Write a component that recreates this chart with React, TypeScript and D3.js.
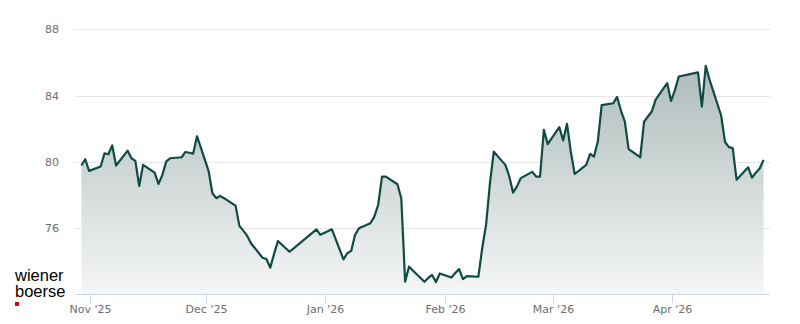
import React from "react";
import * as d3 from "d3";

const dates: string[] = [
  "2025-10-29","2025-10-30","2025-10-31","2025-11-03","2025-11-04","2025-11-05","2025-11-06","2025-11-07",
  "2025-11-10","2025-11-11","2025-11-12","2025-11-13","2025-11-14","2025-11-17","2025-11-18","2025-11-19",
  "2025-11-20","2025-11-21","2025-11-24","2025-11-25","2025-11-26","2025-11-27","2025-11-28","2025-12-01",
  "2025-12-02","2025-12-03","2025-12-04","2025-12-05","2025-12-08","2025-12-09","2025-12-10","2025-12-11",
  "2025-12-12","2025-12-15","2025-12-16","2025-12-17","2025-12-18","2025-12-19","2025-12-22","2025-12-23",
  "2025-12-29","2025-12-30","2026-01-02","2026-01-05","2026-01-06","2026-01-07","2026-01-08","2026-01-09",
  "2026-01-12","2026-01-13","2026-01-14","2026-01-15","2026-01-16","2026-01-19","2026-01-20","2026-01-21",
  "2026-01-22","2026-01-23","2026-01-26","2026-01-27","2026-01-28","2026-01-29","2026-01-30","2026-02-02",
  "2026-02-03","2026-02-04","2026-02-05","2026-02-06","2026-02-09","2026-02-10","2026-02-11","2026-02-12",
  "2026-02-13","2026-02-16","2026-02-17","2026-02-18","2026-02-19","2026-02-20","2026-02-23","2026-02-24",
  "2026-02-25","2026-02-26","2026-02-27","2026-03-02","2026-03-03","2026-03-04","2026-03-05","2026-03-06",
  "2026-03-09","2026-03-10","2026-03-11","2026-03-12","2026-03-13","2026-03-16","2026-03-17","2026-03-18",
  "2026-03-19","2026-03-20","2026-03-23","2026-03-24","2026-03-25","2026-03-26","2026-03-27","2026-03-30",
  "2026-03-31","2026-04-01","2026-04-02","2026-04-07","2026-04-08","2026-04-09","2026-04-10","2026-04-13",
  "2026-04-14","2026-04-15","2026-04-16","2026-04-17","2026-04-20","2026-04-21","2026-04-22","2026-04-23",
  "2026-04-24",
];

const prices: number[] = [
  79.78, 80.16, 79.46, 79.72, 80.52, 80.46, 80.99, 79.78,
  80.68, 80.22, 80.06, 78.55, 79.82, 79.35, 78.67, 79.2,
  80.02, 80.22, 80.28, 80.6, 80.55, 80.5, 81.55, 79.46,
  78.11, 77.81, 77.95, 77.81, 77.36, 76.14, 75.85, 75.55,
  75.09, 74.22, 74.14, 73.62, 74.45, 75.23, 74.58, 74.77,
  75.93, 75.6, 75.93, 74.12, 74.49, 74.63, 75.59, 75.99,
  76.3, 76.7, 77.4, 79.11, 79.11, 78.65, 77.81, 72.77,
  73.68, 73.45, 72.77, 73.0, 73.18, 72.75, 73.27, 73.03,
  73.3, 73.53, 72.93, 73.11, 73.07, 74.79, 76.2, 78.7,
  80.62, 79.82, 79.15, 78.15, 78.51, 79.02, 79.4, 79.11,
  79.11, 81.93, 81.07, 82.1, 81.29, 82.3, 80.6, 79.27,
  79.82, 80.48, 80.32, 81.23, 83.43, 83.54, 83.92, 83.1,
  82.43, 80.77, 80.28, 82.43, 82.74, 83.04, 83.76, 84.75,
  83.68, 84.32, 85.15, 85.4, 83.34, 85.8, 84.95, 82.8,
  81.2, 80.89, 80.83, 78.93, 79.67, 79.05, 79.35, 79.6,
  80.12,
];

const yTicks: number[] = [76, 80, 84, 88];
const xTickDates: string[] = ["2025-11-01", "2025-12-01", "2026-01-01", "2026-02-01", "2026-03-01", "2026-04-01"];
const xTickLabels: string[] = ["Nov '25", "Dec '25", "Jan '26", "Feb '26", "Mar '26", "Apr '26"];

const DAY = 864e5;
const parseUTC = (s: string) => {
  const [y, m, d] = s.split("-").map(Number);
  return Date.UTC(y, m - 1, d);
};

export default function App() {
  const W = 800, H = 324;
  const left = 75, right = 770, top = 29.3, bottom = 294.5;
  const nov1 = parseUTC("2025-11-01");
  const x = d3.scaleTime()
    .domain([new Date(nov1 - 3.97 * DAY), new Date(nov1 + 176.36 * DAY)])
    .range([left, right]);
  const y = d3.scaleLinear().domain([72, 88]).range([bottom, top]);

  const data = dates.map((d, i) => ({ t: new Date(parseUTC(d) + 16.5 * 3600 * 1000), v: prices[i] }));
  const line = d3.line<{ t: Date; v: number }>().x(d => x(d.t)).y(d => y(d.v));
  const area = d3.area<{ t: Date; v: number }>().x(d => x(d.t)).y0(bottom).y1(d => y(d.v));

  const font = "'DejaVu Sans', Verdana, sans-serif";
  const logoFont = "'Liberation Sans', Arial, sans-serif";

  return (
    <div style={{ position: "absolute", left: 0, top: 0 }}>
      <svg width={W} height={H} style={{ display: "block", background: "#fff" }}>
        <defs>
          <linearGradient id="fillGrad" gradientUnits="userSpaceOnUse" x1={0} y1={66} x2={0} y2={bottom}>
            <stop offset="0" stopColor="#aebcbb" />
            <stop offset="1" stopColor="#f5f6f6" />
          </linearGradient>
        </defs>
        {yTicks.map(t => (
          <g key={t}>
            <line x1={left} x2={right} y1={Math.round(y(t)) + 0.5} y2={Math.round(y(t)) + 0.5} stroke="#e6e6e6" strokeWidth={1} />
            <text x={59} y={y(t) + 4} textAnchor="end" fontFamily={font} fontSize={11} fill="#6e6e6e">{t}</text>
          </g>
        ))}
        <path d={area(data) || ""} fill="url(#fillGrad)" />
        <path d={line(data) || ""} fill="none" stroke="#0f4a44" strokeWidth={2.2} strokeLinejoin="round" />
        <line x1={left} x2={right} y1={294.5} y2={294.5} stroke="#ccd6eb" strokeWidth={1} />
        {xTickDates.map((d, i) => {
          const xx = Math.round(x(new Date(parseUTC(d)))) + 0.5;
          return (
            <g key={d}>
              <line x1={xx} x2={xx} y1={294.5} y2={303} stroke="#ccd6eb" strokeWidth={1} />
              <text x={xx} y={313} textAnchor="middle" fontFamily={font} fontSize={11} fill="#6e6e6e">{xTickLabels[i]}</text>
            </g>
          );
        })}
        <text fontFamily={logoFont} fontSize={16.5} fill="#000">
          <tspan x={15} y={281}>wiener</tspan>
          <tspan x={15} y={297}>boerse</tspan>
        </text>
        <rect x={15} y={302} width={4} height={4} fill="#d0021b" />
      </svg>
    </div>
  );
}
